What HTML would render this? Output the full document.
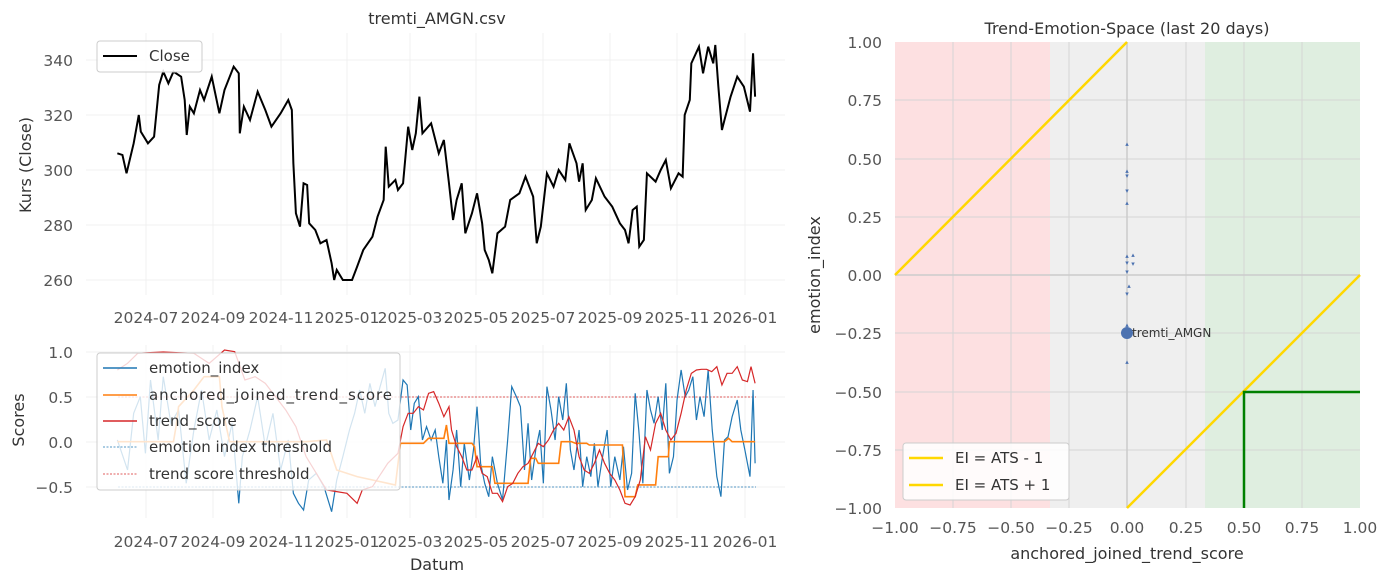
<!DOCTYPE html>
<html><head><meta charset="utf-8"><style>
body{margin:0;background:#fff;}
svg{display:block;font-family:"DejaVu Sans","Liberation Sans",sans-serif;}
</style></head><body>
<svg width="1389" height="584" viewBox="0 0 1389 584" xmlns="http://www.w3.org/2000/svg">
<rect width="1389" height="584" fill="#fff"/>
<!-- TOP LEFT -->
<text x="437" y="24" font-size="16" fill="#333" text-anchor="middle">tremti_AMGN.csv</text>
<g stroke="#f0f0f0" stroke-width="1">
<line x1="86" y1="60" x2="785" y2="60"/><line x1="86" y1="115" x2="785" y2="115"/><line x1="86" y1="170" x2="785" y2="170"/><line x1="86" y1="225" x2="785" y2="225"/><line x1="86" y1="280" x2="785" y2="280"/>
<line x1="146" y1="33" x2="146" y2="295"/><line x1="213" y1="33" x2="213" y2="295"/><line x1="281" y1="33" x2="281" y2="295"/><line x1="347" y1="33" x2="347" y2="295"/><line x1="410" y1="33" x2="410" y2="295"/><line x1="476" y1="33" x2="476" y2="295"/><line x1="543" y1="33" x2="543" y2="295"/><line x1="610" y1="33" x2="610" y2="295"/><line x1="677" y1="33" x2="677" y2="295"/><line x1="745" y1="33" x2="745" y2="295"/>
</g>
<g font-size="15.5" fill="#555" text-anchor="end">
<text x="73" y="66">340</text><text x="73" y="121">320</text><text x="73" y="176">300</text><text x="73" y="231">280</text><text x="73" y="286">260</text>
</g>
<text transform="translate(31,165) rotate(-90)" font-size="16" fill="#333" text-anchor="middle">Kurs (Close)</text>
<g font-size="15.5" fill="#555" text-anchor="middle">
<text x="146" y="323">2024-07</text><text x="213" y="323">2024-09</text><text x="281" y="323">2024-11</text><text x="347" y="323">2025-01</text><text x="410" y="323">2025-03</text><text x="476" y="323">2025-05</text><text x="543" y="323">2025-07</text><text x="610" y="323">2025-09</text><text x="677" y="323">2025-11</text><text x="745" y="323">2026-01</text>
</g>
<g transform="scale(0.5102,0.3333)">
<polyline fill="none" stroke="#000" stroke-width="2" vector-effect="non-scaling-stroke" points="230,460 240,465 248,520 262,430 272,345 276,395 290,430 302,410 312,255 320,215 330,250 340,215 355,230 362,300 366,405 372,320 380,340 392,270 400,300 415,230 430,340 440,270 458,200 468,220 470,400 478,320 490,360 505,275 520,330 532,380 550,340 565,300 572,330 575,490 580,640 588,680 595,550 602,555 606,670 618,690 628,730 640,720 650,790 655,840 660,810 672,840 690,840 700,800 712,750 730,710 740,650 752,600 756,440 762,560 775,540 780,570 790,550 800,380 808,450 815,400 822,290 828,400 845,370 860,460 870,420 880,550 888,660 895,600 905,550 912,700 925,640 935,580 945,670 950,750 958,780 965,820 975,700 990,680 1000,600 1018,580 1030,530 1045,590 1052,730 1060,680 1072,520 1085,560 1095,510 1108,540 1116,430 1130,490 1135,545 1142,490 1148,630 1160,600 1168,535 1185,590 1200,620 1215,670 1225,690 1232,730 1240,630 1248,620 1253,740 1262,720 1268,520 1285,545 1295,510 1305,480 1315,565 1330,520 1338,530 1342,345 1352,300 1355,190 1370,140 1378,220 1388,140 1398,190 1402,135 1408,260 1415,390 1420,360 1432,290 1445,230 1458,260 1470,335 1476,160 1480,290"/>
</g>
<rect x="97" y="41" width="105" height="31" rx="3" fill="#fff" fill-opacity="0.85" stroke="#ccc"/>
<line x1="103" y1="56" x2="137" y2="56" stroke="#000" stroke-width="2"/>
<text x="149" y="61" font-size="15" fill="#333">Close</text>

<!-- BOTTOM LEFT -->
<g stroke="#f0f0f0" stroke-width="1">
<line x1="86" y1="352" x2="785" y2="352"/><line x1="86" y1="397" x2="785" y2="397"/><line x1="86" y1="442" x2="785" y2="442"/><line x1="86" y1="487" x2="785" y2="487"/>
<line x1="146" y1="345" x2="146" y2="518"/><line x1="213" y1="345" x2="213" y2="518"/><line x1="281" y1="345" x2="281" y2="518"/><line x1="347" y1="345" x2="347" y2="518"/><line x1="410" y1="345" x2="410" y2="518"/><line x1="476" y1="345" x2="476" y2="518"/><line x1="543" y1="345" x2="543" y2="518"/><line x1="610" y1="345" x2="610" y2="518"/><line x1="677" y1="345" x2="677" y2="518"/><line x1="745" y1="345" x2="745" y2="518"/>
</g>
<g font-size="15.5" fill="#555" text-anchor="end">
<text x="73" y="358">1.0</text><text x="73" y="403">0.5</text><text x="73" y="448">0.0</text><text x="73" y="493">−0.5</text>
</g>
<text transform="translate(24,420) rotate(-90)" font-size="16" fill="#333" text-anchor="middle">Scores</text>
<g font-size="15.5" fill="#555" text-anchor="middle">
<text x="146" y="547">2024-07</text><text x="213" y="547">2024-09</text><text x="281" y="547">2024-11</text><text x="347" y="547">2025-01</text><text x="410" y="547">2025-03</text><text x="476" y="547">2025-05</text><text x="543" y="547">2025-07</text><text x="610" y="547">2025-09</text><text x="677" y="547">2025-11</text><text x="745" y="547">2026-01</text>
</g>
<text x="437" y="570" font-size="16" fill="#333" text-anchor="middle">Datum</text>
<line x1="118" y1="397" x2="756" y2="397" stroke="#d62728" stroke-width="0.8" stroke-dasharray="2,1.5"/>
<line x1="118" y1="487" x2="756" y2="487" stroke="#1f77b4" stroke-width="0.8" stroke-dasharray="2,1.5"/>
<g transform="translate(0,330) scale(0.5102,0.3333)" fill="none" stroke-width="1.2">
<polyline stroke="#1f77b4" vector-effect="non-scaling-stroke" points="230,330 250,420 262,250 275,200 285,370 295,150 310,330 320,140 335,280 350,240 365,460 380,300 395,180 410,330 425,240 440,380 455,280 468,520 475,380 490,300 505,200 520,350 535,250 550,420 565,330 575,490 585,520 595,540 605,450 620,430 635,470 650,545 660,450 672,380 685,300 695,250 705,180 715,250 725,160 735,230 745,170 755,115 762,250 770,280 780,270 790,150 798,165 805,300 812,220 820,200 828,330 836,290 845,330 853,300 860,380 868,460 875,330 880,510 888,420 895,300 903,470 910,340 920,450 928,360 935,230 942,400 950,460 958,500 965,380 975,460 985,510 995,330 1003,170 1012,200 1020,230 1028,420 1035,280 1042,450 1050,360 1058,300 1065,460 1072,170 1080,240 1088,330 1095,200 1103,270 1110,160 1118,360 1125,420 1135,300 1142,470 1150,380 1158,440 1165,340 1172,470 1180,390 1190,300 1197,470 1205,380 1215,450 1222,350 1230,480 1238,430 1245,190 1252,300 1260,460 1268,180 1275,240 1282,280 1290,200 1298,300 1305,160 1312,430 1320,380 1327,210 1335,120 1343,200 1350,180 1358,140 1365,270 1372,200 1380,260 1388,120 1396,300 1405,440 1413,500 1420,330 1427,320 1435,260 1445,210 1452,300 1460,360 1470,440 1476,180 1480,400"/>
<polyline stroke="#ff7f0e" stroke-width="1.6" vector-effect="non-scaling-stroke" points="230,335 340,335 345,290 350,230 380,180 400,140 430,140 435,230 450,335 600,335 640,330 660,420 700,440 760,460 775,465 785,340 830,340 840,325 870,325 875,285 880,340 925,340 930,350 935,410 965,410 970,460 1035,460 1040,385 1050,385 1055,400 1095,400 1100,335 1120,335 1128,340 1150,340 1155,345 1220,345 1225,500 1245,500 1250,465 1285,465 1290,380 1310,380 1312,335 1420,335 1428,325 1435,335 1480,335"/>
<polyline stroke="#d62728" vector-effect="non-scaling-stroke" points="230,120 250,100 270,70 290,68 320,66 350,68 380,70 410,100 440,60 460,65 480,150 500,140 520,160 540,200 560,240 580,290 600,380 620,430 640,480 660,485 680,490 700,520 710,480 730,470 760,400 780,370 790,290 800,250 810,250 820,230 830,240 840,190 850,185 860,220 870,260 880,230 885,300 895,350 905,380 915,420 925,420 935,380 945,430 955,440 965,490 975,490 985,515 995,470 1005,460 1015,430 1025,410 1035,400 1045,370 1055,340 1065,350 1075,330 1085,300 1095,280 1105,300 1115,260 1125,300 1135,380 1145,420 1155,430 1165,400 1175,360 1185,400 1195,430 1205,450 1215,480 1225,520 1235,525 1245,500 1255,450 1265,320 1275,360 1285,280 1295,250 1305,300 1315,330 1325,310 1335,250 1345,180 1355,130 1365,120 1375,118 1385,118 1395,125 1405,110 1415,165 1425,130 1435,130 1445,110 1455,150 1465,155 1472,110 1480,160"/>
</g>
<rect x="97" y="353" width="303" height="137" rx="3" fill="#fff" fill-opacity="0.8" stroke="#ccc"/>
<g stroke-width="1.5">
<line x1="103" y1="368" x2="137" y2="368" stroke="#1f77b4"/>
<line x1="103" y1="395" x2="137" y2="395" stroke="#ff7f0e"/>
<line x1="103" y1="421" x2="137" y2="421" stroke="#d62728"/>
<line x1="103" y1="447" x2="137" y2="447" stroke="#1f77b4" stroke-width="0.8" stroke-dasharray="2,1.5"/>
<line x1="103" y1="474" x2="137" y2="474" stroke="#d62728" stroke-width="0.8" stroke-dasharray="2,1.5"/>
</g>
<g font-size="15" fill="#333">
<text x="149" y="373">emotion_index</text><text x="149" y="400" textLength="243">anchored_joined_trend_score</text><text x="149" y="426">trend_score</text><text x="149" y="452">emotion index threshold</text><text x="149" y="479">trend score threshold</text>
</g>

<!-- RIGHT -->
<text x="1127" y="34" font-size="16" fill="#333" text-anchor="middle">Trend-Emotion-Space (last 20 days)</text>
<rect x="895" y="42" width="155" height="466" fill="#fde0e1"/>
<rect x="1050" y="42" width="155" height="466" fill="#efefef"/>
<rect x="1205" y="42" width="155" height="466" fill="#dfeee0"/>
<g stroke="#d5d5d5" stroke-width="1">
<line x1="953" y1="42" x2="953" y2="508"/><line x1="1011" y1="42" x2="1011" y2="508"/><line x1="1069" y1="42" x2="1069" y2="508"/><line x1="1186" y1="42" x2="1186" y2="508"/><line x1="1244" y1="42" x2="1244" y2="508"/><line x1="1302" y1="42" x2="1302" y2="508"/>
<line x1="895" y1="100" x2="1360" y2="100"/><line x1="895" y1="159" x2="1360" y2="159"/><line x1="895" y1="217" x2="1360" y2="217"/><line x1="895" y1="333" x2="1360" y2="333"/><line x1="895" y1="392" x2="1360" y2="392"/><line x1="895" y1="450" x2="1360" y2="450"/>
</g>
<line x1="1127" y1="42" x2="1127" y2="508" stroke="#cccccc" stroke-width="1.5"/>
<line x1="895" y1="275" x2="1360" y2="275" stroke="#cccccc" stroke-width="1.5"/>
<line x1="895" y1="275" x2="1127" y2="42" stroke="#ffd700" stroke-width="2.5"/>
<line x1="1127" y1="508" x2="1360" y2="275" stroke="#ffd700" stroke-width="2.5"/>
<polyline points="1244,508 1244,392 1360,392" fill="none" stroke="#008000" stroke-width="2.5"/>
<g fill="#4c72b0" font-size="7" text-anchor="middle">
<text x="1127" y="146">▴</text><text x="1127" y="173">▴</text><text x="1127" y="178">▾</text><text x="1127" y="193">▾</text><text x="1127" y="205">▴</text>
<text x="1127" y="258">▴</text><text x="1127" y="265">▾</text><text x="1133" y="257">▴</text><text x="1133" y="266">▾</text><text x="1127" y="274">▾</text><text x="1129" y="288">▴</text><text x="1127" y="296">▾</text><text x="1127" y="327">▴</text><text x="1127" y="364">▴</text>
</g>
<circle cx="1127" cy="333" r="6" fill="#4c72b0"/>
<text x="1132" y="337" font-size="12" fill="#333">tremti_AMGN</text>
<g font-size="15.5" fill="#555" text-anchor="end">
<text x="882" y="48">1.00</text><text x="882" y="106">0.75</text><text x="882" y="165">0.50</text><text x="882" y="223">0.25</text><text x="882" y="281">0.00</text><text x="882" y="339">−0.25</text><text x="882" y="398">−0.50</text><text x="882" y="456">−0.75</text><text x="882" y="514">−1.00</text>
</g>
<g font-size="15.5" fill="#555" text-anchor="middle">
<text x="895" y="533">−1.00</text><text x="953" y="533">−0.75</text><text x="1011" y="533">−0.50</text><text x="1069" y="533">−0.25</text><text x="1127" y="533">0.00</text><text x="1186" y="533">0.25</text><text x="1244" y="533">0.50</text><text x="1302" y="533">0.75</text><text x="1360" y="533">1.00</text>
</g>
<text x="1127" y="559" font-size="16" fill="#333" text-anchor="middle">anchored_joined_trend_score</text>
<text transform="translate(820,275) rotate(-90)" font-size="16" fill="#333" text-anchor="middle">emotion_index</text>
<rect x="903" y="443" width="166" height="57" rx="3" fill="#fff" fill-opacity="0.85" stroke="#ccc"/>
<line x1="909" y1="458" x2="943" y2="458" stroke="#ffd700" stroke-width="2.5"/>
<line x1="909" y1="485" x2="943" y2="485" stroke="#ffd700" stroke-width="2.5"/>
<text x="955" y="463" font-size="15" fill="#333">EI = ATS - 1</text>
<text x="955" y="490" font-size="15" fill="#333">EI = ATS + 1</text>
</svg>
</body></html>
